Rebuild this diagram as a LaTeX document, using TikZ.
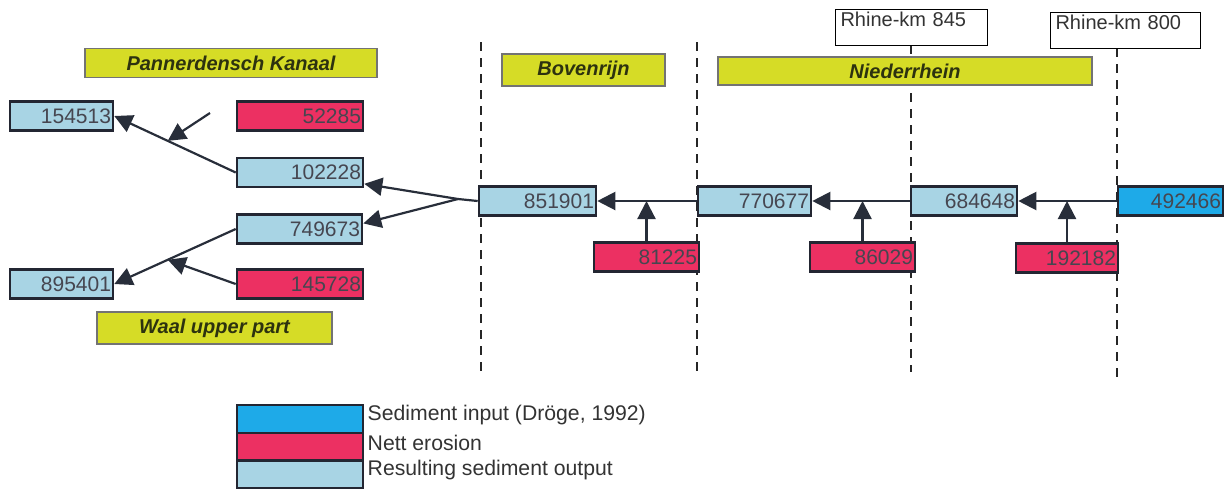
\documentclass[tikz,border=0pt]{standalone}
\usepackage{fontspec}
\setmainfont{Liberation Sans}
\usepackage{tikz}
\usetikzlibrary{%
  positioning
 ,arrows.meta
 ,calc
}
\definecolor{reachyellow}{RGB}{214,220,38}
\definecolor{reachtext}{RGB}{45,50,15}
\definecolor{erored}{RGB}{236,48,98}
\definecolor{outblue}{RGB}{168,212,228}
\definecolor{inblue}{RGB}{30,170,232}
\definecolor{boxline}{RGB}{35,38,50}
\definecolor{numgray}{RGB}{70,70,80}
\definecolor{flowgray}{RGB}{40,46,58}
\tikzstyle{box}=[draw=boxline,line width=1.3pt,inner xsep=1pt,inner ysep=1.5pt,minimum height=14.5pt,align=right,text=numgray,font=\fontsize{10.5}{12}\selectfont]
\tikzstyle{outp}=[box,fill=outblue]
\tikzstyle{ero}=[box,fill=erored]
\tikzstyle{inp}=[box,fill=inblue]
\tikzstyle{key}=[box,minimum width=63pt,minimum height=14pt]
\tikzstyle{reach}=[draw=black!55,line width=0.6pt,fill=reachyellow,minimum height=14.5pt,text=reachtext,font=\bfseries\itshape\fontsize{10}{12}\selectfont]
\tikzstyle{km}=[draw=black,line width=0.5pt,fill=white,anchor=north west,align=left,inner xsep=2.5pt,inner ysep=1.5pt,text depth=8pt,text=black!80,font=\fontsize{10}{12}\selectfont]
\tikzstyle{legtext}=[inner sep=0pt,font=\fontsize{10.6}{13}\selectfont,text=black!80]
\tikzstyle{bound}=[line width=1.4pt,draw=black!85,dash pattern=on 4.5pt off 3.5pt]
\tikzstyle{flow}=[-{Triangle[length=9pt,width=9pt]},line width=1.1pt,draw=flowgray,fill=flowgray]

\begin{document}
\begin{tikzpicture}[x=0.5pt,y=-0.5pt]
  \useasboundingbox (0,0) rectangle (1224,488);
% reach boundaries
  \foreach \x/\t/\b in {481/42/372, 697/42/372, 911/45/372, 1117/48/378}
    \draw[bound] (\x,\t) -- (\x,\b);
% reaches
  \node[reach,minimum width=146pt]   (kanaal)  at (231,63)   {Pannerdensch Kanaal};
  \node[reach,minimum width=117.5pt] (waal)    at (214.5,328) {Waal upper part};
  \node[reach,minimum width=81.5pt,minimum height=14pt] (bovenrijn) at (583.5,70) {Bovenrijn};
  \node[reach,minimum width=187pt,minimum height=14pt]  (niederrhein) at (905,71) {Niederrhein};
  \node[km,text width=71pt] (km845) at (835,9)  {Rhine-km 845};
  \node[km,text width=70pt] (km800) at (1050,12) {Rhine-km 800};
% sediment balance
  \node[inp,text width=50.5pt]  (n492466) at (1170.5,201) {492466};
  \node[outp,text width=51pt]   (n684648) at (964,201)    {684648};
  \node[outp,text width=54.5pt] (n770677) at (754.5,201)  {770677};
  \node[outp,text width=56.5pt] (n851901) at (537.5,201)  {851901};
  \node[ero,text width=49pt]    (n192182) at (1067,258)   {192182};
  \node[ero,text width=50.5pt]  (n86029)  at (862.5,257)  {86029};
  \node[ero,text width=50.5pt]  (n81225)  at (646.5,257)  {81225};
  \node[outp,text width=61pt]   (n102228) at (300,172.5)  {102228};
  \node[outp,text width=60.5pt] (n749673) at (299.5,229)  {749673};
  \node[ero,text width=61pt]    (n52285)  at (300,116)    {52285};
  \node[ero,text width=61pt]    (n145728) at (300,284)    {145728};
  \node[outp,text width=49.5pt] (n154513) at (61.5,116)   {154513};
  \node[outp,text width=49.5pt] (n895401) at (61.5,284)   {895401};
% flows
  \draw[flow] (n492466.west) -- (n684648.east);
  \draw[flow] (n684648.west) -- (n770677.east);
  \draw[flow] (n770677.west) -- (n851901.east);
  \draw[flow] (n192182.north) -- (n192182.north |- n684648.east);
  \draw[flow] (n86029.north) -- (n86029.north |- n770677.east);
  \draw[flow] (n81225.north) -- (n81225.north |- n851901.east);
  \coordinate (split) at (458,199);
  \draw[line width=1.1pt,draw=flowgray] (n851901.west) -- (split);
  \draw[flow] (split) -- (n102228.-10);
  \draw[flow] (split) -- (n749673.5);
  \draw[flow] (n102228.west) -- coordinate[pos=0.56] (kjoin) (n154513.east);
  \coordinate (kin) at (210,113);
  \draw[flow] (kin) -- (kjoin);
  \draw[flow] (n749673.west) -- coordinate[pos=0.56] (wjoin) (n895401.east);
  \draw[flow] (n145728.west) -- (wjoin);
% legend
  \node[key,fill=inblue]  (key1) at (300,419)   {};
  \node[key,fill=erored]  (key2) at (300,447)   {};
  \node[key,fill=outblue] (key3) at (300,474.5) {};
  \node[legtext,right=1.5pt of key1,yshift=2pt] (leg1) {Sediment input (Dröge, 1992)};
  \node[legtext,right=1.5pt of key2,yshift=2pt] (leg2) {Nett erosion};
  \node[legtext,right=1.5pt of key3,yshift=2pt] (leg3) {Resulting sediment output};
\end{tikzpicture}
\end{document}
